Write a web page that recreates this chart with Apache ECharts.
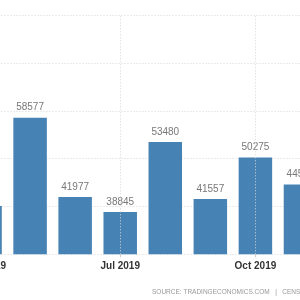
<!DOCTYPE html>
<html>
<head>
<meta charset="utf-8">
<script src="https://cdn.jsdelivr.net/npm/echarts@6/dist/echarts.min.js"></script>
<style>
html,body{margin:0;padding:0;background:#fff;overflow:hidden;width:300px;height:300px;}
#wrap{position:relative;width:300px;height:300px;overflow:hidden;}
#c{position:absolute;left:-39px;top:0;width:362px;height:300px;}
</style>
</head>
<body>
<div id="wrap"><div id="c"></div></div>
<script>
var categories = ['Apr 2019','May 2019','Jun 2019','Jul 2019','Aug 2019','Sep 2019','Oct 2019','Nov 2019'];
var values = [40100, 58577, 41977, 38845, 53480, 41557, 50275, 44580];
var yMin = 30000, yMax = 80000, yStep = 10000;
var markedMonths = ['Apr 2019','Jul 2019','Oct 2019'];
var sourceText = 'SOURCE: TRADINGECONOMICS.COM   |   CENSUS BUREAU';

var chart = echarts.init(document.getElementById('c'), null, {renderer:'canvas'});
chart.setOption({
  animation:false,
  grid:{left:0, right:0, top:15.3, bottom:45.7, containLabel:false},
  xAxis:{
    type:'category',
    data:categories,
    axisLine:{show:false},
    axisTick:{show:true, interval:2, alignWithLabel:true, length:3, lineStyle:{color:'#ccc'}},
    axisLabel:{interval:2, color:'#333', fontFamily:'Liberation Sans', fontSize:10, fontWeight:'bold', margin:7, hideOverlap:false},
    splitLine:{show:false}
  },
  yAxis:{
    type:'value', min:yMin, max:yMax, interval:yStep,
    axisLabel:{show:false}, axisLine:{show:false}, axisTick:{show:false},
    splitLine:{show:true, lineStyle:{color:'#d6d6d6', type:[1,2], width:1}}
  },
  series:[{
    type:'bar',
    data:values,
    barWidth:33.5,
    itemStyle:{color:'#4682B4'},
    label:{show:true, position:'top', distance:5, color:'#777', fontFamily:'Liberation Sans', fontSize:10},
    markLine:{
      silent:true, symbol:'none', label:{show:false},
      lineStyle:{color:'#d6d6d6', type:[1,2], width:1},
      data: markedMonths.map(function(m){return {xAxis:m};})
    },
    z:2
  }],
  graphic:[{
    type:'text', left:191, top:288.5,
    style:{text:sourceText, fill:'#999', font:'6.5px "Liberation Sans"'}
  }]
});
</script>
</body>
</html>
